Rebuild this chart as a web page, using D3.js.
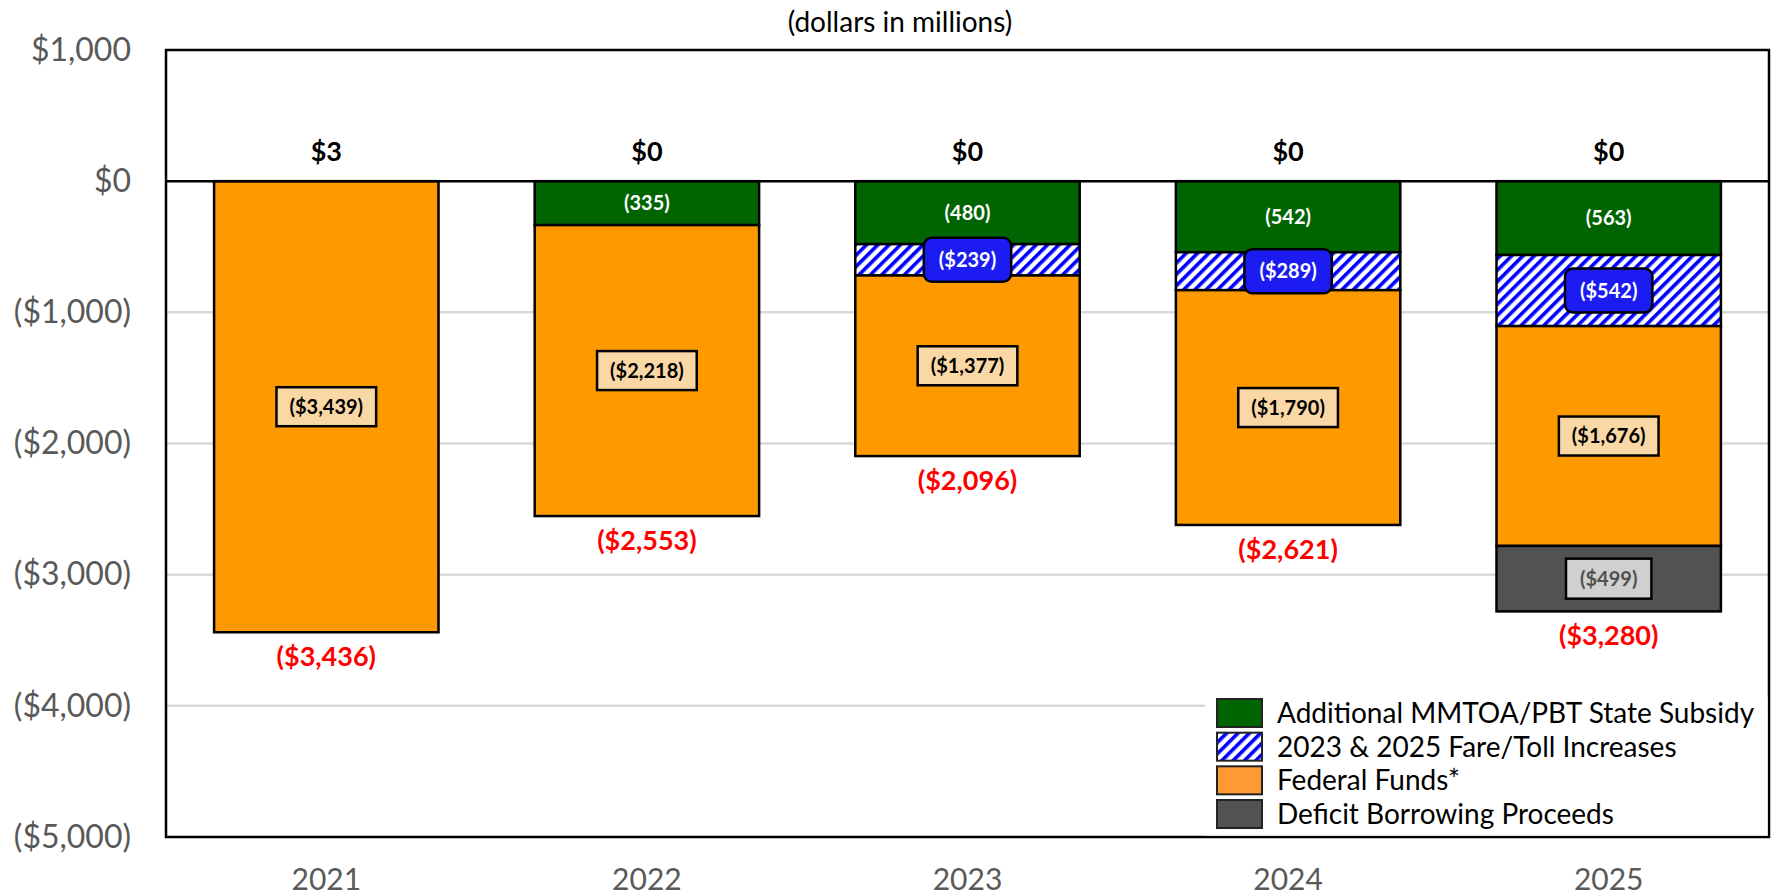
<!DOCTYPE html>
<html>
<head>
<meta charset="utf-8">
<script src="https://cdn.jsdelivr.net/npm/d3@7"></script>
<style>
  body { margin: 0; background: #fff; }
  text { font-family: Lato, "Open Sans", sans-serif; }
</style>
</head>
<body>
<div id="chart"></div>
<script>
// chart values
const years = ["2021", "2022", "2023", "2024", "2025"];
const topValues = [3, 0, 0, 0, 0];
const stateSubsidy = [0, -335, -480, -542, -563];
const fareIncreases = [0, 0, -239, -289, -542];
const federalFunds = [-3439, -2218, -1377, -1790, -1676];
const deficitBorrowing = [0, 0, 0, 0, -499];
const totals = [-3436, -2553, -2096, -2621, -3280];
const yTicks = [1000, 0, -1000, -2000, -3000, -4000, -5000];
const seriesNames = ["Additional MMTOA/PBT State Subsidy", "2023 & 2025 Fare/Toll Increases", "Federal Funds*", "Deficit Borrowing Proceeds"];

window.onload = () => {
  const width = 1778, height = 896;
  const margin = { top: 50, right: 9, bottom: 59, left: 166 };

  const svg = d3.select("#chart").append("svg")
    .attr("width", width)
    .attr("height", height);

  // hatch pattern for fare increases
  const defs = svg.append("defs");
  defs.append("pattern")
    .attr("id", "hatch")
    .attr("patternUnits", "userSpaceOnUse")
    .attr("width", 8).attr("height", 8)
    .attr("patternTransform", "rotate(45)")
    .call(p => {
      p.append("rect").attr("width", 8).attr("height", 8).attr("fill", "#fff");
      p.append("rect").attr("width", 3.6).attr("height", 8).attr("fill", "#0000ff");
    });

  const keys = ["subsidy", "fare", "federal", "deficit"];
  const table = years.map((y, i) => ({
    year: y,
    subsidy: stateSubsidy[i],
    fare: fareIncreases[i],
    federal: federalFunds[i],
    deficit: deficitBorrowing[i]
  }));
  const stacked = d3.stack().keys(keys).offset(d3.stackOffsetDiverging)(table);

  const fills = { subsidy: "#006400", fare: "url(#hatch)", federal: "#ff9900", deficit: "#525252" };

  const x = d3.scaleBand()
    .domain(years)
    .range([margin.left, width - margin.right])
    .paddingInner(0.3)
    .paddingOuter(0.15);

  const y = d3.scaleLinear()
    .domain([-5000, 1000])
    .range([height - margin.bottom, margin.top]);

  // gridlines
  svg.append("g")
    .selectAll("line")
    .data(yTicks.filter(d => d !== 0 && d !== 1000 && d !== -5000))
    .join("line")
    .attr("x1", margin.left).attr("x2", width - margin.right)
    .attr("y1", d => y(d)).attr("y2", d => y(d))
    .attr("stroke", "#d9d9d9")
    .attr("stroke-width", 2.5);

  const money = v => v > 0 ? "$" + d3.format(",")(v) : v === 0 ? "$0" : "($" + d3.format(",")(-v) + ")";

  // y axis
  const yaxis = svg.append("g")
    .attr("transform", `translate(${margin.left},0)`)
    .call(d3.axisLeft(y).tickValues(yTicks).tickFormat(money).tickSize(0).tickPadding(35));
  yaxis.select(".domain").remove();
  yaxis.selectAll("text")
    .style("font-family", "Lato, sans-serif")
    .style("font-size", "32px")
    .attr("fill", "#595959");

  // x axis
  const xaxis = svg.append("g")
    .attr("transform", `translate(0,${height - margin.bottom})`)
    .call(d3.axisBottom(x).tickSize(0).tickPadding(32));
  xaxis.select(".domain").remove();
  xaxis.selectAll("text")
    .style("font-family", "Lato, sans-serif")
    .style("font-size", "30px")
    .attr("fill", "#595959");

  // stacked bars
  const layers = svg.append("g")
    .selectAll("g")
    .data(stacked)
    .join("g")
    .attr("fill", d => fills[d.key]);

  layers.selectAll("rect")
    .data(d => d.filter(s => s[1] - s[0] !== 0))
    .join("rect")
    .attr("x", d => x(d.data.year))
    .attr("width", x.bandwidth())
    .attr("y", d => y(d[1]))
    .attr("height", d => y(d[0]) - y(d[1]))
    .attr("stroke", "#000")
    .attr("stroke-width", 2.5);

  // zero line and border
  svg.append("line")
    .attr("x1", margin.left).attr("x2", width - margin.right)
    .attr("y1", y(0)).attr("y2", y(0))
    .attr("stroke", "#000").attr("stroke-width", 2.5);

  svg.append("rect")
    .attr("x", margin.left).attr("y", margin.top)
    .attr("width", width - margin.left - margin.right)
    .attr("height", height - margin.top - margin.bottom)
    .attr("fill", "none")
    .attr("stroke", "#000").attr("stroke-width", 2.5);

  // segment labels
  const labelStyle = {
    subsidy: { box: null, text: "#fff", fmt: v => "(" + d3.format(",")(-v) + ")" },
    fare: { box: "#1c1cf2", rx: 8, text: "#fff", fmt: money, padX: 15, h: 44 },
    federal: { box: "#fad8a6", rx: 0, text: "#000", fmt: money, padX: 13, h: 39 },
    deficit: { box: "#d0d0d0", rx: 0, text: "#505050", fmt: money, padX: 14, h: 40 }
  };

  stacked.forEach(layer => {
    const st = labelStyle[layer.key];
    layer.filter(s => s[1] - s[0] !== 0).forEach(s => {
      const cx = x(s.data.year) + x.bandwidth() / 2;
      const cy = y((s[0] + s[1]) / 2);
      const g = svg.append("g");
      const t = g.append("text")
        .attr("x", cx).attr("y", cy)
        .attr("text-anchor", "middle")
        .attr("dy", "0.36em")
        .attr("fill", st.text)
        .style("font-weight", "bold")
        .style("font-size", "20px")
        .text(st.fmt(s.data[layer.key]));
      if (st.box) {
        const bb = t.node().getBBox();
        const w = bb.width + st.padX * 2;
        g.insert("rect", "text")
          .attr("x", cx - w / 2).attr("y", cy - st.h / 2)
          .attr("width", w).attr("height", st.h)
          .attr("rx", st.rx).attr("ry", st.rx)
          .attr("fill", st.box)
          .attr("stroke", "#000").attr("stroke-width", 2.5);
      }
    });
  });

  // top labels (positive values)
  svg.append("g")
    .selectAll("text")
    .data(topValues)
    .join("text")
    .attr("x", (d, i) => x(years[i]) + x.bandwidth() / 2)
    .attr("y", d => y(Math.max(d, 0)) - 20)
    .attr("text-anchor", "middle")
    .style("font-weight", "bold")
    .style("font-size", "27px")
    .attr("fill", "#000")
    .text(d => money(d));

  // totals below the bars
  svg.append("g")
    .selectAll("text")
    .data(totals)
    .join("text")
    .attr("x", (d, i) => x(years[i]) + x.bandwidth() / 2)
    .attr("y", (d, i) => y(d3.min(stacked, l => l[i][0])) + 34)
    .attr("text-anchor", "middle")
    .style("font-weight", "bold")
    .style("font-size", "27px")
    .attr("fill", "#ff0000")
    .text(d => money(d));

  // title
  svg.append("text")
    .attr("x", 900).attr("y", 32)
    .attr("text-anchor", "middle")
    .style("font-size", "28px")
    .attr("fill", "#000")
    .text("(dollars in millions)");

  // legend
  const legend = svg.append("g");
  legend.append("rect")
    .attr("x", 1205).attr("y", 697)
    .attr("width", width - margin.right - 1205 - 1.5)
    .attr("height", height - margin.bottom - 697 - 1.5)
    .attr("fill", "#fff");

  const legendFills = ["#006400", "url(#hatch)", "#ff9933", "#525252"];
  const rowY = d3.scalePoint().domain(seriesNames).range([713, 814]);

  legend.selectAll("rect.swatch")
    .data(seriesNames)
    .join("rect")
    .attr("class", "swatch")
    .attr("x", 1217)
    .attr("y", d => rowY(d) - 14)
    .attr("width", 45).attr("height", 28)
    .attr("fill", (d, i) => legendFills[i])
    .attr("stroke", "#222").attr("stroke-width", 2);

  legend.selectAll("text")
    .data(seriesNames)
    .join("text")
    .attr("x", 1277)
    .attr("y", d => rowY(d))
    .attr("dy", "0.36em")
    .style("font-size", "28px")
    .attr("fill", "#000")
    .text(d => d);
};
</script>
</body>
</html>
